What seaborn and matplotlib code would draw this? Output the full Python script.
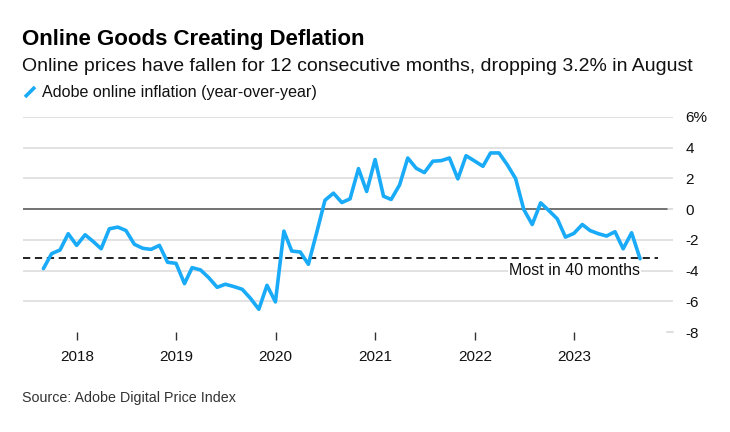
import matplotlib
matplotlib.use("Agg")
import matplotlib.pyplot as plt
import seaborn as sns
import pandas as pd

# ---------------- data ----------------
dates = pd.date_range("2017-08-31", "2023-08-31", freq="ME")
inflation = [
    -3.87, -2.90, -2.66, -1.60, -2.36, -1.67, -2.08, -2.58, -1.28, -1.17,
    -1.39, -2.29, -2.55, -2.62, -2.36, -3.46, -3.53, -4.85, -3.81, -3.96,
    -4.46, -5.09, -4.89, -5.04, -5.22,
    -5.80, -6.52, -4.96, -6.04, -1.43, -2.73, -2.79, -3.59, -1.49, 0.58,
    1.04, 0.43, 0.67, 2.64, 1.15, 3.23, 0.84, 0.63, 1.58, 3.33,
    2.66, 2.38, 3.12, 3.16,
    3.33, 1.97, 3.48, 3.14, 2.79, 3.66, 3.66, 2.90, 1.99, -0.02,
    -1.00, 0.41, -0.09, -0.63, -1.82, -1.58, -1.00, -1.39, -1.60, -1.75,
    -1.47, -2.58, -1.54, -3.23,
]
reference_level = -3.2
reference_label = "Most in 40 months"
y_ticks = [6, 4, 2, 0, -2, -4, -6, -8]
y_tick_labels = ["6%", "4", "2", "0", "-2", "-4", "-6", "-8"]
x_tick_years = [2018, 2019, 2020, 2021, 2022, 2023]
series_name = "Adobe online inflation (year-over-year)"
title = "Online Goods Creating Deflation"
subtitle = "Online prices have fallen for 12 consecutive months, dropping 3.2% in August"
source = "Source: Adobe Digital Price Index"

df = pd.DataFrame({"date": dates, "value": inflation})

# ---------------- style ----------------
sns.set_style("white")
plt.rcParams["font.family"] = ["Liberation Sans", "DejaVu Sans"]
BLUE = "#1AABF8"
W, H = 730, 432
fig = plt.figure(figsize=(W / 100, H / 100), dpi=100)

def fx(px):
    return px / W

def fy(py):
    return 1 - py / H

ax_left, ax_right, ax_top, ax_bottom = 23, 673, 117, 332
ax = fig.add_axes([fx(ax_left), fy(ax_bottom), fx(ax_right - ax_left), (ax_bottom - ax_top) / H])

# gridlines
for t in y_ticks:
    if t == 0:
        ax.axhline(0, color="#D8D8D8", lw=1.2, zorder=1)
        ax.axhline(0, xmin=0, xmax=(667 - ax_left) / (ax_right - ax_left), color="#555555", lw=1.1, zorder=2)
    elif t == -8:
        ax.axhline(t, xmin=(667 - ax_left) / (ax_right - ax_left), xmax=1, color="#D8D8D8", lw=1.2, zorder=1, clip_on=False)
    else:
        ax.axhline(t, color="#DDDDDD", lw=1.2, zorder=1)

sns.lineplot(data=df, x="date", y="value", ax=ax, color=BLUE, lw=2.6, zorder=4)

ax.axhline(reference_level, xmin=0, xmax=(658 - ax_left) / (ax_right - ax_left),
           color="#111111", lw=1.3, ls=(0, (4, 2.6)), zorder=3)
ax.text(dates[-1], -4.0, reference_label, ha="right", va="center", fontsize=11.5,
        color="#111111", zorder=5,
        bbox=dict(facecolor="white", edgecolor="none", pad=1.0))

ax.set_ylim(-8, 6)
ax.set_xlim(pd.Timestamp("2017-06-17"), pd.Timestamp("2023-12-30"))
ax.set_xlabel("")
ax.set_ylabel("")

ax.yaxis.tick_right()
ax.set_yticks(y_ticks)
ax.set_yticklabels(y_tick_labels)
ax.tick_params(axis="y", length=0, pad=9, labelsize=11, labelcolor="#111111")
for lbl in ax.get_yticklabels():
    lbl.set_horizontalalignment("left")

ax.set_xticks([pd.Timestamp(f"{y}-01-01") for y in x_tick_years])
ax.set_xticklabels([str(y) for y in x_tick_years])
ax.tick_params(axis="x", bottom=True, length=6, width=1, color="#333333", pad=7, labelsize=11,
               labelcolor="#111111", direction="out")
for s in ax.spines.values():
    s.set_visible(False)

# ---------------- header / footer ----------------
fig.text(fx(22), fy(45), title, fontsize=16, fontweight="bold", color="#000000", va="baseline")
fig.text(fx(22), fy(71), subtitle, fontsize=14, color="#111111", va="baseline")
fig.lines.append(plt.Line2D([fx(25), fx(35)], [fy(97), fy(87)], transform=fig.transFigure,
                            color=BLUE, lw=2.6, solid_capstyle="butt"))
fig.text(fx(42), fy(97.5), series_name, fontsize=11.6, color="#111111", va="baseline")
fig.text(fx(22), fy(402), source, fontsize=10.3, color="#333333", va="baseline")

fig.savefig("out.png", dpi=100, facecolor="white")
